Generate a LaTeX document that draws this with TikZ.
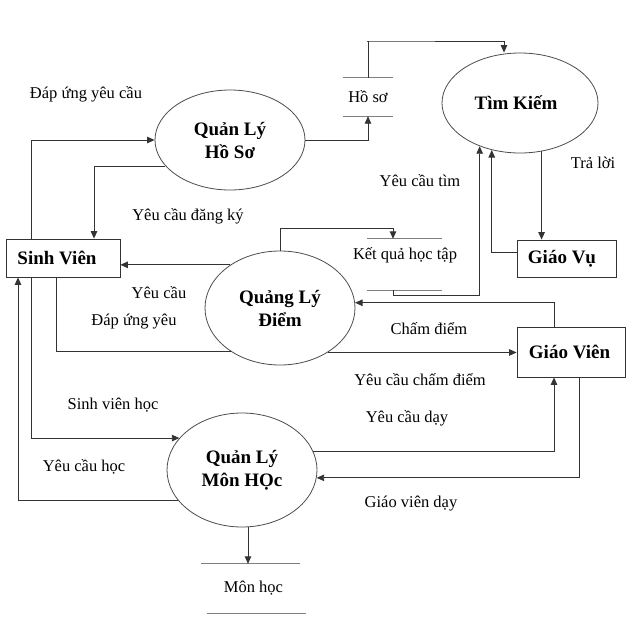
\documentclass[tikz,border=0pt]{standalone}
\usepackage{fontspec}
\setmainfont{Liberation Serif}
\usetikzlibrary{arrows.meta,shapes.geometric}
\begin{document}
\begin{tikzpicture}[x=1pt,y=-1pt,
  conn/.style={draw=black!80,line width=0.9pt},
  arr/.style={conn,-{Triangle[length=7.5pt,width=6.5pt]}},
  proc/.style={ellipse,draw=black!70,line width=0.8pt,fill=white,inner sep=0pt,align=center,
     font=\fontsize{19}{23}\selectfont\bfseries},
  ent/.style={rectangle,draw=black!80,line width=0.8pt,inner sep=0pt,font=\fontsize{19}{23}\selectfont\bfseries},
  storebox/.style={rectangle,inner sep=0pt,font=\fontsize{16.5}{20}\selectfont},
  storeline/.style={draw=black!50,line width=0.9pt},
  lbl/.style={inner sep=0pt,font=\fontsize{16.5}{20}\selectfont}]
\useasboundingbox (0,0) rectangle (640,619);

% processes
\node[proc,minimum width=150,minimum height=100] (QLHS) at (230,140) {Quản Lý\\Hồ Sơ};
\node[proc,minimum width=156,minimum height=100] (TK) at (520,103) {Tìm Kiếm\hspace*{8pt}};
\node[proc,minimum width=150,minimum height=114] (QLD) at (280,308) {Quảng Lý\\Điểm};
\node[proc,minimum width=150,minimum height=114] (QLMH) at (242,470) {Quản Lý\\Môn HỌc};

% entities
\node[ent,minimum width=114,minimum height=38] (SV) at (63,258) {Sinh Viên\hspace*{12pt}};
\node[ent,minimum width=99,minimum height=37] (GVu) at (566.5,258.5) {Giáo Vụ\hspace*{9pt}};
\node[ent,minimum width=108,minimum height=50] (GVi) at (571,352) {Giáo Viên\hspace*{3pt}};

% data stores
\node[storebox,minimum width=50,minimum height=38] (HS) at (368,97) {Hồ sơ};
\draw[storeline] (HS.north west) -- (HS.north east);
\draw[storeline] (HS.south west) -- (HS.south east);
\node[storebox,minimum width=75,minimum height=51] (KQ) at (404.5,264.5) {};
\node[lbl] (KQt) at (405,255) {Kết quả học tập};
\draw[storeline] (KQ.north west) -- (KQ.north east);
\draw[storeline] (KQ.south west) -- (KQ.south east);
\node[storebox,minimum width=99,minimum height=49] (MH) at (253.5,588.5) {Môn học};
\draw[storeline] ([xshift=-3]MH.north west) -- ([xshift=-3]MH.north east);
\draw[storeline] ([xshift=3]MH.south west) -- ([xshift=3]MH.south east);

% helper coordinates
\coordinate (c1) at (367,41);
\coordinate (c2) at (393,228);
\coordinate (c3) at (393,295);

% connectors
\draw[arr] ([xshift=-32]SV.north) |- (QLHS.west);
\draw[arr] (QLHS.202) -| ([xshift=31]SV.north);
\draw[arr] (QLHS.east) -| (HS.south);
\draw[arr] (HS.north) |- (c1) -| ([xshift=-16]TK.north);
\draw[arr] (QLD.139) -- (QLD.139 -| SV.east);
\draw[conn] ([xshift=-7]SV.south) |- (QLD.222.7);
\draw[arr] (QLD.317.3) -- (QLD.317.3 -| GVi.west);
\draw[arr] ([xshift=-17]GVi.north) |- (QLD.4.6);
\draw[arr] (QLD.north) |- (c2) -- (c2 |- KQ.north);
\draw[arr] (c2 |- KQ.south) -- (c3) -| (TK.227);
\draw[arr] ([yshift=6]GVu.west) -| (TK.239);
\draw[arr] (TK.294.6) -- (TK.294.6 |- GVu.north);
\draw[arr] ([xshift=-32]SV.south) |- (QLMH.153.8);
\draw[arr] (QLMH.205.6) -| ([xshift=-45]SV.south);
\draw[arr] (QLMH.15) -| ([xshift=-17]GVi.south);
\draw[arr] ([xshift=8]GVi.south) |- (QLMH.354.6);
\draw[arr] ([xshift=6]QLMH.south) -- ([xshift=6]QLMH.south |- MH.north);

% labels
\node[lbl] (l1) at (86,94) {Đáp ứng yêu cầu};
\node[lbl] (l2) at (188,216) {Yêu cầu đăng ký};
\node[lbl] (l3) at (420,181) {Yêu cầu tìm};
\node[lbl] (l4) at (593,163) {Trả lời};
\node[lbl] (l5) at (159,293) {Yêu cầu};
\node[lbl] (l6) at (134,322) {Đáp ứng yêu};
\node[lbl] (l7) at (429,329) {Chấm điểm};
\node[lbl] (l8) at (420,380) {Yêu cầu chấm điểm};
\node[lbl] (l9) at (113,405) {Sinh viên học};
\node[lbl] (l10) at (407,418) {Yêu cầu dạy};
\node[lbl] (l11) at (84,467) {Yêu cầu học};
\node[lbl] (l12) at (411,504) {Giáo viên dạy};
\end{tikzpicture}
\end{document}
